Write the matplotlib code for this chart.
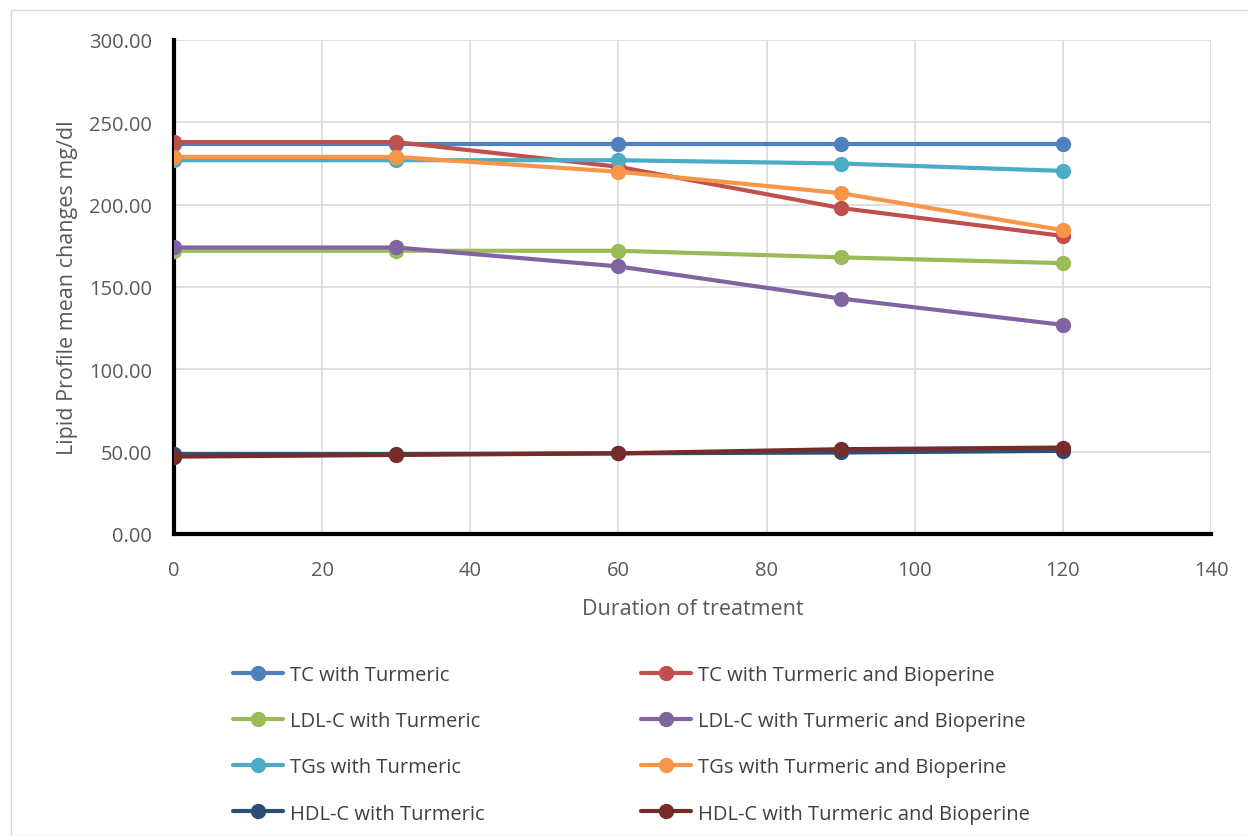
import matplotlib.pyplot as plt
from matplotlib.patches import Rectangle

plt.rcParams['font.family'] = ['Open Sans', 'DejaVu Sans']

days = [0, 30, 60, 90, 120]

tc_turmeric = [237, 237, 237, 237, 237]
tc_bioperine = [238, 238, 223, 198, 181]
ldl_turmeric = [172, 172, 172, 168, 164.5]
ldl_bioperine = [174, 174, 162.5, 143, 127]
tgs_turmeric = [227, 227, 227, 225, 220.5]
tgs_bioperine = [229, 229, 220, 207, 184.5]
hdl_turmeric = [48.5, 48.5, 49, 49.5, 50.5]
hdl_bioperine = [47, 48, 49, 51.5, 52.5]

series = [
    ("TC with Turmeric", tc_turmeric, "#4F81BD"),
    ("TC with Turmeric and Bioperine", tc_bioperine, "#C0504D"),
    ("LDL-C with Turmeric", ldl_turmeric, "#9BBB59"),
    ("LDL-C with Turmeric and Bioperine", ldl_bioperine, "#8064A2"),
    ("TGs with Turmeric", tgs_turmeric, "#4BACC6"),
    ("TGs with Turmeric and Bioperine", tgs_bioperine, "#F79646"),
    ("HDL-C with Turmeric", hdl_turmeric, "#2C4D75"),
    ("HDL-C with Turmeric and Bioperine", hdl_bioperine, "#772C2A"),
]

W, H = 1248, 837
fig = plt.figure(figsize=(W / 100, H / 100), dpi=100)
ax = fig.add_axes([174 / W, 1 - 535 / H, (1211 - 174) / W, (535 - 41) / H])

handles = []
for label, vals, color in series:
    h, = ax.plot(days, vals, color=color, lw=3, marker="o", ms=10,
                 label=label, solid_capstyle="round", zorder=3)
    handles.append(h)

ax.set_xlim(0, 140)
ax.set_ylim(0, 300)
ax.set_xticks(range(0, 141, 20))
ax.set_yticks(range(0, 301, 50))
ax.set_yticklabels([f"{v:.2f}" for v in range(0, 301, 50)])
ax.grid(True, color="#d9d9d9", lw=1.2)
ax.set_axisbelow(True)
for s in ["top", "right"]:
    ax.spines[s].set_visible(False)
for s in ["left", "bottom"]:
    ax.spines[s].set_linewidth(3)
    ax.spines[s].set_color("black")
ax.tick_params(length=0, labelsize=14.5, colors="#595959")
ax.tick_params(axis="y", pad=16)
ax.tick_params(axis="x", pad=19)
ax.set_xlabel("Duration of treatment", fontsize=15.5, color="#595959", labelpad=13)
ax.set_ylabel("Lipid Profile mean changes mg/dl", fontsize=15.5, color="#595959",
              labelpad=8)

# legend in two columns, row-wise order
left_h = handles[0::2]
right_h = handles[1::2]
kw = dict(frameon=False, fontsize=14.5, handlelength=2.5, handletextpad=0.35,
          labelspacing=1.3, labelcolor="#404040", loc="upper left",
          borderaxespad=0, borderpad=0)
fig.legend(handles=left_h, bbox_to_anchor=(233 / W, 1 - 666 / H), **kw)
fig.legend(handles=right_h, bbox_to_anchor=(641 / W, 1 - 666 / H), **kw)

fig.patches.append(Rectangle((11 / W, 0), 1, 1 - 11 / H,
                             transform=fig.transFigure, fill=False,
                             edgecolor="#d9d9d9", lw=1))

fig.savefig("out.png", dpi=100)
